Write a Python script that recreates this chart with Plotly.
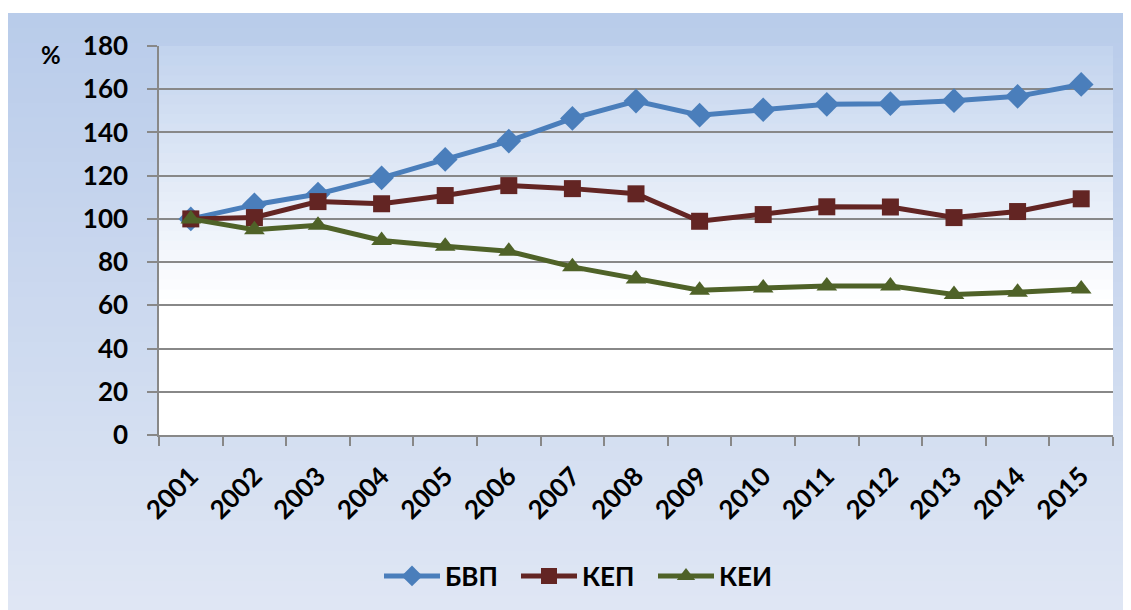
import plotly.graph_objects as go

years = [str(y) for y in range(2001, 2016)]
bvp = [100, 106.5, 111.5, 119, 127.5, 136, 146.5, 154.5, 148, 150.5, 153, 153.3, 154.7, 156.7, 162.2]
kep = [100, 100.6, 108, 107, 110.8, 115.4, 114, 111.6, 98.9, 102, 105.6, 105.5, 100.6, 103.4, 109.3]
kei = [100, 95, 97, 90, 87.3, 85, 77.8, 72.2, 67, 68, 69, 69, 65, 66, 67.6]
series_names = ["БВП", "КЕП", "КЕИ"]

colors = {"БВП": "#4A7EBB", "КЕП": "#632523", "КЕИ": "#4F6228"}
symbols = {"БВП": "diamond", "КЕП": "square", "КЕИ": "triangle-up"}
sizes = {"БВП": 19, "КЕП": 17, "КЕИ": 18}

# page body margin pushes the figure by 8px, so lay out in page pixels and shift
OFF = 8
W, H = 1131 - OFF, 610 - OFF
L, R, T, B = 159 - OFF, 18, 46 - OFF, 610 - 436
pw, ph = W - L - R, H - T - B


def px_x(p):
    return (p - OFF - L) / pw


def px_y(p):
    return (H - B - (p - OFF)) / ph


def mix(c1, c2, t):
    a = [int(c1[i:i + 2], 16) for i in (1, 3, 5)]
    b = [int(c2[i:i + 2], 16) for i in (1, 3, 5)]
    return "rgb(%d,%d,%d)" % tuple(round(a[k] + (b[k] - a[k]) * t) for k in range(3))


shapes = []
# outer chart area gradient
n = 40
y_top, y_bot = 13, 612
for i in range(n):
    p0 = y_top + (y_bot - y_top) * i / n
    p1 = y_top + (y_bot - y_top) * (i + 1) / n + 1
    shapes.append(dict(
        type="rect", xref="paper", yref="paper", layer="below",
        x0=px_x(7), x1=px_x(1140), y0=px_y(p1), y1=px_y(p0),
        fillcolor=mix("#B9CCEA", "#DFE6F4", i / (n - 1)), line_width=0,
    ))
# plot area gradient
m = 40
for i in range(m):
    t0 = i / m
    t1 = (i + 1) / m
    shapes.append(dict(
        type="rect", xref="x domain", yref="y domain", layer="below",
        x0=0, x1=1, y0=1 - t1 - 0.002, y1=1 - t0,
        fillcolor=mix("#C3D4EE", "#FFFFFF", min(1, (i / (m - 1)) / 0.66)), line_width=0,
    ))

fig = go.Figure()
for name, vals in zip(series_names, [bvp, kep, kei]):
    fig.add_trace(go.Scatter(
        x=years, y=vals, name=name, mode="lines+markers",
        line=dict(color=colors[name], width=5),
        marker=dict(symbol=symbols[name], size=sizes[name], color=colors[name]),
    ))

FAM = "Lato, Open Sans, sans-serif"
ytick_font = dict(family=FAM, size=26, color="#000000", weight="bold")
xtick_font = dict(family=FAM, size=26, color="#000000", weight="bold")

fig.update_layout(
    width=W, height=H,
    margin=dict(l=L, r=R, t=T, b=B),
    paper_bgcolor="#FFFFFF",
    plot_bgcolor="rgba(0,0,0,0)",
    shapes=shapes,
    font=ytick_font,
    showlegend=True,
    legend=dict(
        orientation="h", x=px_x(379), xanchor="left", y=px_y(576), yanchor="middle",
        font=dict(family=FAM, size=26, color="#000000", weight="bold"),
        bgcolor="rgba(0,0,0,0)", itemwidth=56, tracegroupgap=0,
        entrywidth=66, entrywidthmode="pixels",
    ),
    annotations=[dict(
        text="%", xref="paper", yref="paper", x=px_x(51), y=px_y(55),
        xanchor="center", yanchor="middle",
        showarrow=False, font=dict(family=FAM, size=24, color="#000000", weight="bold"),
    )],
)

fig.update_xaxes(
    type="category", range=[-0.5, 14.5], tickson="boundaries",
    ticks="outside", ticklen=9, tickcolor="#888888", tickwidth=1.5,
    showline=True, linecolor="#888888", linewidth=1.5,
    showgrid=False, tickangle=-45, tickfont=xtick_font, ticklabelstandoff=14,
)
fig.update_yaxes(
    range=[0, 180], dtick=20, tick0=0,
    ticks="outside", ticklen=10, tickcolor="#888888", tickwidth=1.5,
    showline=True, linecolor="#888888", linewidth=1.5,
    showgrid=True, gridcolor="#888888", gridwidth=1.5,
    zeroline=False, tickfont=ytick_font, ticklabelstandoff=14,
)

fig.write_html("out.html")
